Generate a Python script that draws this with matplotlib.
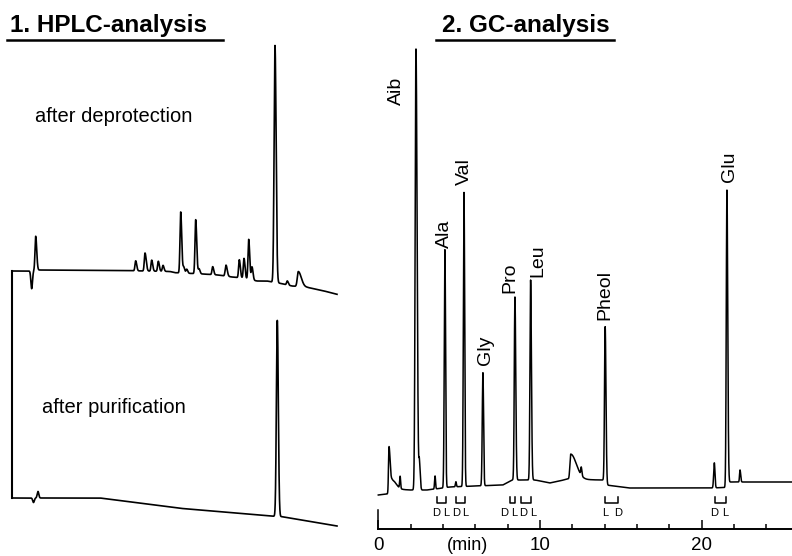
import numpy as np
import matplotlib.pyplot as plt
from matplotlib.lines import Line2D

plt.rcParams['font.family'] = ['Liberation Sans', 'DejaVu Sans']

# ---------------- HPLC data (time in min, signal in arbitrary units) ----------------
# after deprotection
dep_base_t = [0, 1.7, 2.6, 11.8, 15.8, 16.3, 19.1, 20.6, 22.0, 23.0, 24.5, 25.5, 26.0, 26.8, 28.0, 29.5, 31.1, 32.5]
dep_base_s = [0, 0, 1, 0.3, -0.5, -1.7, -3, -4, -6, -7, -10, -10, -11, -12.3, -15, -16.3, -19.7, -23.3]
dep_rt = [1.97, 2.37, 12.37, 13.3, 13.97, 14.63, 15.1, 16.87, 17.17, 17.47, 18.37, 18.7,
          20.07, 21.4, 22.73, 23.2, 23.67, 24.0, 26.3, 27.53, 28.63]
dep_h = [-18, 34, 10, 18, 11, 10, 6, 61, 6, 4, 54, 5, 8, 11, 18, 20, 40, 13, 237, 4, 15]
dep_wl = [0.08, 0.07, 0.07, 0.07, 0.07, 0.07, 0.07, 0.07, 0.07, 0.07, 0.07, 0.07,
          0.07, 0.08, 0.07, 0.07, 0.07, 0.07, 0.09, 0.07, 0.1]
dep_wr = [0.08, 0.1, 0.1, 0.12, 0.1, 0.1, 0.1, 0.1, 0.1, 0.1, 0.1, 0.1,
          0.1, 0.12, 0.1, 0.1, 0.1, 0.1, 0.11, 0.1, 0.3]

# after purification
pur_base_t = [0, 1.8, 8.8, 16.8, 25.8, 27.0, 32.5]
pur_base_s = [0, 0, 0, -10.3, -18, -18.7, -28]
pur_rt = [2.15, 2.6, 26.53]
pur_h = [-4.5, 6.5, 196]
pur_wl = [0.08, 0.08, 0.09]
pur_wr = [0.08, 0.08, 0.1]

# ---------------- GC data ----------------
gc_base_t = [0.0, 0.55, 0.85, 2.0, 3.0, 4.0, 4.4, 6.0, 7.7, 8.3, 8.8, 9.7, 10.6, 11.2, 11.7,
             13.7, 13.95, 14.1, 15.5, 20.5, 21.45, 21.7, 25.6]
gc_base_s = [5, 6, 11, 10, 10, 12, 13, 14, 15, 20, 20, 20, 17, 19, 21,
             20, 20, 15, 12, 12, 12.5, 18, 18]
gc_rt = [0.66, 0.85, 1.35, 2.33, 2.54, 3.51, 4.12, 4.80, 5.30, 6.47, 8.45, 9.42, 11.90, 12.55,
         14.03, 20.78, 21.56, 22.37]
gc_h = [45, 9, 12, 441, 27, 13, 238, 5, 294, 113, 183, 200, 25, 8, 156, 25, 295, 12]
gc_wl = [0.03, 0.08, 0.03, 0.05, 0.03, 0.03, 0.04, 0.03, 0.04, 0.04, 0.04, 0.04, 0.05, 0.03,
         0.04, 0.04, 0.04, 0.03]
gc_wr = [0.07, 0.25, 0.03, 0.07, 0.05, 0.03, 0.04, 0.03, 0.04, 0.04, 0.05, 0.05, 0.35, 0.04,
         0.05, 0.04, 0.05, 0.04]

gc_names = ["Aib", "Ala", "Val", "Gly", "Pro", "Leu", "Pheol", "Glu"]
gc_name_rt = [2.33, 4.12, 5.30, 6.47, 8.45, 9.42, 14.03, 21.56]

# enantiomer pairs (first / second eluting)
enant_first = [3.6, 4.8, 8.14, 8.82, 14.02, 20.82]
enant_second = [4.19, 5.38, 8.47, 9.44, 14.84, 21.48]
enant_order = ["DL", "DL", "DL", "DL", "LD", "DL"]

time_major = [0, 10, 20]


def chromatogram(t, base_t, base_s, rt, h, wl, wr):
    y = np.interp(t, base_t, base_s)
    for r, hh, a, b in zip(rt, h, wl, wr):
        sig = np.where(t < r, a, b)
        y = y + hh * np.exp(-0.5 * ((t - r) / sig) ** 2)
    return y


W, H = 792, 556
fig = plt.figure(figsize=(W / 100, H / 100), dpi=100)

# ---------------- left: HPLC ----------------
ax1 = fig.add_axes([0, 0, 360 / W, 1])
ax1.set_xlim(-1.2, 34.8)
ax1.set_ylim(0, H)
ax1.axis("off")

t_h = np.linspace(0, 32.5, 8000)
off_dep, off_pur = 285, 58
y_dep = chromatogram(t_h, dep_base_t, dep_base_s, dep_rt, dep_h, dep_wl, dep_wr)
y_pur = chromatogram(t_h, pur_base_t, pur_base_s, pur_rt, pur_h, pur_wl, pur_wr)
ax1.plot(t_h, y_dep + off_dep, color="black", lw=1.2)
ax1.plot(t_h, y_pur + off_pur, color="black", lw=1.2)
ax1.plot([0, 0], [off_pur, off_dep], color="black", lw=1.5)
ax1.text(2.3, 434, "after deprotection", fontsize=14.5, va="baseline")
ax1.text(3.0, 143, "after purification", fontsize=14.5, va="baseline")

# ---------------- right: GC ----------------
ax2 = fig.add_axes([360 / W, 0, 432 / W, 1])
ax2.set_xlim((360 - 378.3) / 16.17, (792 - 378.3) / 16.17)
ax2.set_ylim(-56, 500)

t_g = np.linspace(0, 25.6, 30000)
y_gc = chromatogram(t_g, gc_base_t, gc_base_s, gc_rt, gc_h, gc_wl, gc_wr)
ax2.plot(t_g, y_gc, color="black", lw=1.1)

# peak labels
label_shift = {"Aib": (-13.7, -40), "Ala": (0, 1), "Val": (0, 5), "Gly": (2, 5.8),
               "Pro": (-3.6, 3), "Leu": (5, 2.2), "Pheol": (0, 5), "Glu": (2, 5.8)}
for name, r in zip(gc_names, gc_name_rt):
    win = np.abs(t_g - r) < 0.15
    apex = y_gc[win].max()
    dx, dy = label_shift[name]
    ax2.annotate(name, xy=(r, apex), xytext=(dx, dy), textcoords="offset points",
                 rotation=90, ha="center", va="bottom", fontsize=14)

# D/L brackets, letters spread around the pair centre
letter_shift = [0, 0, -0.2, 0.16, 0, -0.05]
for a, b, order, sh in zip(enant_first, enant_second, enant_order, letter_shift):
    ax2.plot([a, a, b, b], [3.3, -3.3, -3.3, 3.3], color="black", lw=1.1)
    mid = (a + b) / 2 + sh
    half = max((b - a) / 2, 0.3)
    ax2.text(mid - half, -13.5, order[0], fontsize=8, ha="center", va="center")
    ax2.text(mid + half, -13.5, order[1], fontsize=8, ha="center", va="center")

# time axis
for s in ["top", "right", "left"]:
    ax2.spines[s].set_visible(False)
ax2.spines["bottom"].set_position(("data", -29))
ax2.spines["bottom"].set_bounds(0, 25.6)
ax2.spines["bottom"].set_linewidth(1.4)
ax2.set_yticks([])
ax2.set_xticks(time_major)
ax2.set_xticks(np.arange(2, 26, 2), minor=True)
ax2.tick_params(axis="x", which="major", direction="in", length=6.5, width=1.1,
                labelsize=13.5, pad=6)
ax2.tick_params(axis="x", which="minor", direction="in", length=3.6, width=1.1)
ax2.plot([0, 0], [-29, -10], color="black", lw=1.1)
ax2.text(5.5, -45, "(min)", fontsize=13, ha="center", va="center")

# titles
fig.text(10 / W, 1 - 32 / H, "1. HPLC-analysis", fontsize=17.5, fontweight="bold", va="baseline")
fig.text(442 / W, 1 - 32 / H, "2. GC-analysis", fontsize=17.5, fontweight="bold", va="baseline")
fig.lines.append(Line2D([7 / W, 223 / W], [1 - 40 / H] * 2, color="black", lw=1.8,
                        transform=fig.transFigure))
fig.lines.append(Line2D([436 / W, 614 / W], [1 - 39.5 / H] * 2, color="black", lw=1.8,
                        transform=fig.transFigure))

plt.savefig("out.png", dpi=100)
plt.close()
